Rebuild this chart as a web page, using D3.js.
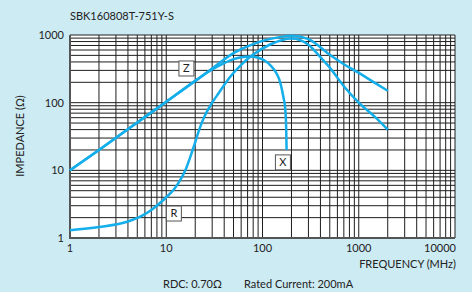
<!DOCTYPE html>
<html lang="en">
  <head>
    <meta charset="utf-8">
    <title>SBK160808T-751Y-S</title>
    <style>
      body { margin: 0; background: #cdebf3; }
      svg { display: block; }
      text { font-family: Lato, "Open Sans", sans-serif; fill: #222; }
      .grid line { stroke: #1e1e1e; stroke-width: 1; }
      .curve { fill: none; stroke: #14aeea; stroke-width: 2.5; }
      .tag rect { fill: #fff; stroke: #555; stroke-width: 1; }
    </style>
  </head>
  <body>
    <svg id="chart"></svg>
    <script src="https://cdn.jsdelivr.net/npm/d3@7"></script>
    <script>
      // values: [frequency MHz, impedance ohm]
      var zData = [[1,10],[2,20],[5,51],[10,103],[20,210],[30,320],[50,540],[70,680],[100,820],[150,930],[200,975],[300,870],[500,510],[700,370],[1000,275],[1500,193],[2000,150]];
      var rData = [[1,1.3],[2,1.45],[4,1.75],[5.5,2.1],[7,2.6],[10,4],[12,5.2],[14,7.2],[16,10.5],[18,16.6],[20,26],[22,40],[25,63],[30,100],[35,138],[46,240],[60,363],[80,513],[120,724],[200,890],[300,720],[400,470],[500,330],[700,175],[1000,100],[1500,60],[2000,40]];
      var xData = [[1,10],[2,20],[5,51],[10,103],[20,210],[30,310],[40,385],[50,440],[60,470],[75,480],[90,460],[105,420],[120,360],[140,270],[152,204],[165,120],[172,83],[176,45],[178,20]];

      var xTicks = [1, 10, 100, 1000, 10000];
      var yTicks = [1, 10, 100, 1000];
      var tags = [{name: "Z", f: 16.2, v: 320}, {name: "X", f: 163, v: 13.1}, {name: "R", f: 12, v: 2.3}];

      var W = 472, H = 292;
      var margin = {top: 35, right: 17, bottom: 54, left: 70};

      var svg = d3.select("#chart").attr("width", W).attr("height", H);

      var x = d3.scaleLog().domain([1, 10000]).range([margin.left, W - margin.right]);
      var y = d3.scaleLog().domain([1, 1000]).range([H - margin.bottom, margin.top]);

      svg.append("rect")
          .attr("x", x.range()[0]).attr("y", y.range()[1])
          .attr("width", x.range()[1] - x.range()[0])
          .attr("height", y.range()[0] - y.range()[1])
          .attr("fill", "#fff");

      // log grid, every 1..9 of each decade
      var xGrid = [], yGrid = [];
      for (var d = 1; d < 10000; d *= 10) for (var k = 1; k < 10; k++) xGrid.push(d * k);
      xGrid.push(10000);
      for (var d = 1; d < 1000; d *= 10) for (var k = 1; k < 10; k++) yGrid.push(d * k);
      yGrid.push(1000);

      var grid = svg.append("g").attr("class", "grid");
      grid.selectAll(".vx").data(xGrid).enter().append("line")
          .attr("x1", x).attr("x2", x)
          .attr("y1", y.range()[0]).attr("y2", y.range()[1]);
      grid.selectAll(".hy").data(yGrid).enter().append("line")
          .attr("y1", y).attr("y2", y)
          .attr("x1", x.range()[0]).attr("x2", x.range()[1]);

      // axis border
      svg.append("path")
          .attr("d", "M" + x.range()[0] + "," + y.range()[1] + "V" + y.range()[0] + "H" + x.range()[1])
          .attr("fill", "none").attr("stroke", "#555").attr("stroke-width", 2);

      var line = d3.line()
          .x(function(d) { return x(d[0]); })
          .y(function(d) { return y(d[1]); })
          .curve(d3.curveMonotoneX);

      [zData, rData, xData].forEach(function(s) {
        svg.append("path").attr("class", "curve").attr("d", line(s));
      });

      // curve tags
      var tag = svg.selectAll(".tag").data(tags).enter().append("g")
          .attr("class", "tag")
          .attr("transform", function(d) { return "translate(" + x(d.f) + "," + y(d.v) + ")"; });
      tag.append("rect").attr("x", -7.5).attr("y", -7.5).attr("width", 15).attr("height", 15);
      tag.append("text").attr("text-anchor", "middle").attr("dy", "0.36em")
          .style("font-size", "11px").text(function(d) { return d.name; });

      // tick labels
      svg.selectAll(".xt").data(xTicks).enter().append("text")
          .attr("x", function(d) { return d === 10000 ? x(d) + 1 : x(d); })
          .attr("y", 252)
          .attr("text-anchor", function(d) { return d === 10000 ? "end" : "middle"; })
          .style("font-size", "11px")
          .text(function(d) { return d; });
      svg.selectAll(".yt").data(yTicks).enter().append("text")
          .attr("x", 64).attr("y", y).attr("dy", "0.36em")
          .attr("text-anchor", "end")
          .style("font-size", "11px")
          .text(function(d) { return d; });

      svg.append("text").attr("x", 70).attr("y", 20)
          .style("font-size", "11px").text("SBK160808T-751Y-S");
      svg.append("text").attr("x", 456).attr("y", 268).attr("text-anchor", "end")
          .style("font-size", "11px").text("FREQUENCY (MHz)");
      svg.append("text").attr("transform", "translate(24,136) rotate(-90)")
          .attr("text-anchor", "middle")
          .style("font-size", "11px").text("IMPEDANCE (\u03A9)");
      svg.append("text").attr("x", 163).attr("y", 288)
          .style("font-size", "11px").text("RDC: 0.70\u03A9");
      svg.append("text").attr("x", 244).attr("y", 288)
          .style("font-size", "11px").text("Rated Current: 200mA");
    </script>
  </body>
</html>
